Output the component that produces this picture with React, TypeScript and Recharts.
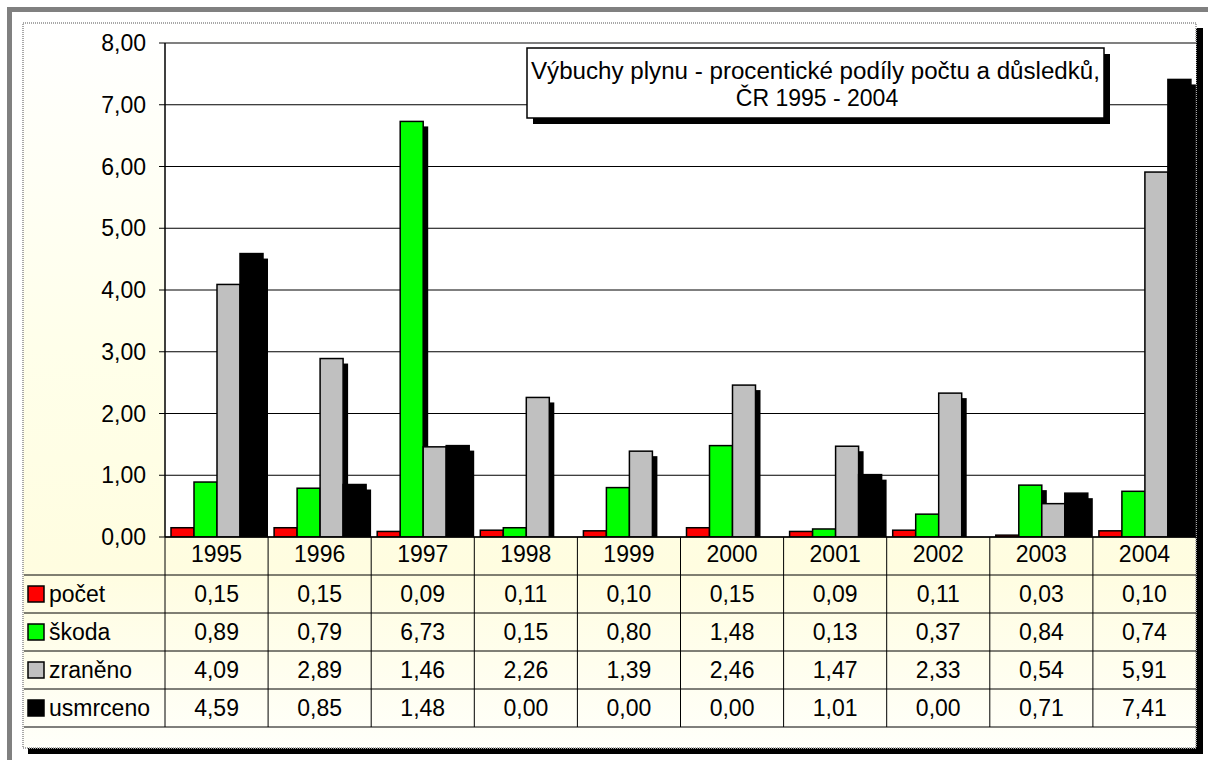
import React from 'react';
import { BarChart, Bar, XAxis, YAxis, CartesianGrid, ReferenceLine } from 'recharts';

// Data (procentické podíly, ČR 1995 - 2004)
const years = ['1995', '1996', '1997', '1998', '1999', '2000', '2001', '2002', '2003', '2004'];
const pocet = [0.15, 0.15, 0.09, 0.11, 0.1, 0.15, 0.09, 0.11, 0.03, 0.1];
const skoda = [0.89, 0.79, 6.73, 0.15, 0.8, 1.48, 0.13, 0.37, 0.84, 0.74];
const zraneno = [4.09, 2.89, 1.46, 2.26, 1.39, 2.46, 1.47, 2.33, 0.54, 5.91];
const usmrceno = [4.59, 0.85, 1.48, 0.0, 0.0, 0.0, 1.01, 0.0, 0.71, 7.41];
const yTicks = [0, 1, 2, 3, 4, 5, 6, 7, 8];

const TITLE_1 = 'Výbuchy plynu - procentické podíly počtu a důsledků,';
const TITLE_2 = 'ČR 1995 - 2004';

const series = [
  { key: 'pocet', name: 'počet', color: '#FF0000', values: pocet },
  { key: 'skoda', name: 'škoda', color: '#00FF00', values: skoda },
  { key: 'zraneno', name: 'zraněno', color: '#C0C0C0', values: zraneno },
  { key: 'usmrceno', name: 'usmrceno', color: '#000000', values: usmrceno },
];

const rows = years.map((year, i) => {
  const row: any = { year };
  series.forEach(s => { row[s.key] = s.values[i]; });
  return row;
});

// layout
const W = 1208;
const H = 760;
const PLOT_LEFT = 165;
const PLOT_RIGHT = 1196;
const PLOT_TOP = 43;
const PLOT_BOTTOM = 537;
const ROW_H = 38;
const Y_AXIS_W = 60;
const FONT = '"Liberation Sans", Arial, sans-serif';
const FS = 23;
const SHADOW = 5;

const fmt = (v: number) => v.toFixed(2).replace('.', ',');

// bar with the Excel style drop shadow
const ShadowBar = (props: any) => {
  const { x, y, width, height, fill } = props;
  if (!height || height <= 0) return null;
  return (
    <g>
      {height > SHADOW && (
        <rect x={x + SHADOW} y={y + SHADOW} width={width} height={height - SHADOW} fill="#000" />
      )}
      <rect x={x} y={y} width={width} height={height} fill={fill} stroke="#000" strokeWidth={1.5} />
    </g>
  );
};

const Background = () => (
  <svg width={W} height={H} style={{ position: 'absolute', left: 0, top: 0 }}>
    <defs>
      <linearGradient id="areaFill" x1="0" y1="0" x2="0" y2="1">
        <stop offset="0" stopColor="#FFFFFF" />
        <stop offset="0.45" stopColor="#FFFFEA" />
        <stop offset="0.75" stopColor="#FFFDE0" />
        <stop offset="1" stopColor="#FFFFFA" />
      </linearGradient>
    </defs>
    <rect x={0} y={0} width={W} height={H} fill="#FFFFFF" />
    <rect x={7} y={7} width={W} height={5} fill="#808080" />
    <rect x={7} y={7} width={5} height={H} fill="#808080" />
    <rect x={28} y={28} width={1175} height={726} fill="#000" />
    <rect x={23} y={23} width={1173} height={725} fill="url(#areaFill)" stroke="#A8A8A8" strokeWidth={2} strokeDasharray="1 1" />
  </svg>
);

const Overlay = () => {
  const colW = (PLOT_RIGHT - PLOT_LEFT) / years.length;
  const tableBottom = PLOT_BOTTOM + ROW_H * (series.length + 1);
  return (
    <svg width={W} height={H} style={{ position: 'absolute', left: 0, top: 0 }} fontFamily={FONT}>
      {/* data table grid */}
      {series.map((s, k) => (
        <line key={`h${k}`} x1={24} x2={PLOT_RIGHT} y1={PLOT_BOTTOM + ROW_H * (k + 1)} y2={PLOT_BOTTOM + ROW_H * (k + 1)} stroke="#000" strokeWidth={1} />
      ))}
      <line x1={24} x2={PLOT_RIGHT} y1={tableBottom} y2={tableBottom} stroke="#000" strokeWidth={1} />
      {years.map((_, i) => (
        <line key={`v${i}`} x1={PLOT_LEFT + colW * i} x2={PLOT_LEFT + colW * i} y1={PLOT_BOTTOM} y2={tableBottom} stroke="#000" strokeWidth={1} />
      ))}
      {series.map((s, k) => {
        const cy = PLOT_BOTTOM + ROW_H * (k + 1) + ROW_H / 2;
        return (
          <g key={s.key}>
            <rect x={28} y={cy - 8} width={16} height={16} fill={s.color} stroke="#000" strokeWidth={1.5} />
            <text x={49} y={cy + 8} fontSize={FS} fill="#000">{s.name}</text>
            {s.values.map((v, i) => (
              <text key={i} x={PLOT_LEFT + colW * (i + 0.5)} y={cy + 8} fontSize={FS} fill="#000" textAnchor="middle">
                {fmt(v)}
              </text>
            ))}
          </g>
        );
      })}
      {/* title box */}
      <rect x={533} y={54} width={577} height={70} fill="#000" />
      <rect x={527} y={48} width={577} height={70} fill="#FFFFFF" stroke="#000" strokeWidth={1.5} />
      <text x={815.5} y={79} fontSize={23} textAnchor="middle" fill="#000" textLength={569} lengthAdjust="spacingAndGlyphs">
        {TITLE_1}
      </text>
      <text x={817} y={106} fontSize={23} textAnchor="middle" fill="#000">
        {TITLE_2}
      </text>
    </svg>
  );
};

const App: React.FC = () => {
  return (
    <div style={{ position: 'absolute', left: 0, top: 0, width: W, height: H }}>
      <Background />
      <div style={{ position: 'absolute', left: 0, top: 0 }}>
        <BarChart
          width={W}
          height={H}
          data={rows}
          margin={{ top: PLOT_TOP, right: W - PLOT_RIGHT, left: PLOT_LEFT - Y_AXIS_W, bottom: H - PLOT_BOTTOM - ROW_H }}
          barCategoryGap={6}
          barGap={0}
        >
          <CartesianGrid vertical={false} stroke="#000" strokeWidth={1} fill="#FFFFFF" fillOpacity={1} />
          <XAxis
            dataKey="year"
            height={ROW_H}
            tickLine={false}
            tickSize={0}
            tickMargin={9}
            axisLine={{ stroke: '#000', strokeWidth: 1.5 }}
            tick={{ fontSize: FS, fill: '#000', fontFamily: FONT }}
            interval={0}
          />
          <YAxis
            width={Y_AXIS_W}
            domain={[0, 8]}
            ticks={yTicks}
            tickFormatter={fmt}
            tickSize={6}
            tickMargin={13}
            axisLine={{ stroke: '#000', strokeWidth: 1.5 }}
            tickLine={{ stroke: '#000' }}
            tick={{ fontSize: FS, fill: '#000', fontFamily: FONT }}
            allowDataOverflow
          />
          <ReferenceLine y={8} stroke="#808080" strokeWidth={2} ifOverflow="extendDomain" />
          {series.map(s => (
            <Bar
              key={s.key}
              dataKey={s.key}
              name={s.name}
              fill={s.color}
              shape={ShadowBar}
              isAnimationActive={false}
            />
          ))}
        </BarChart>
      </div>
      <Overlay />
    </div>
  );
};

export default App;
